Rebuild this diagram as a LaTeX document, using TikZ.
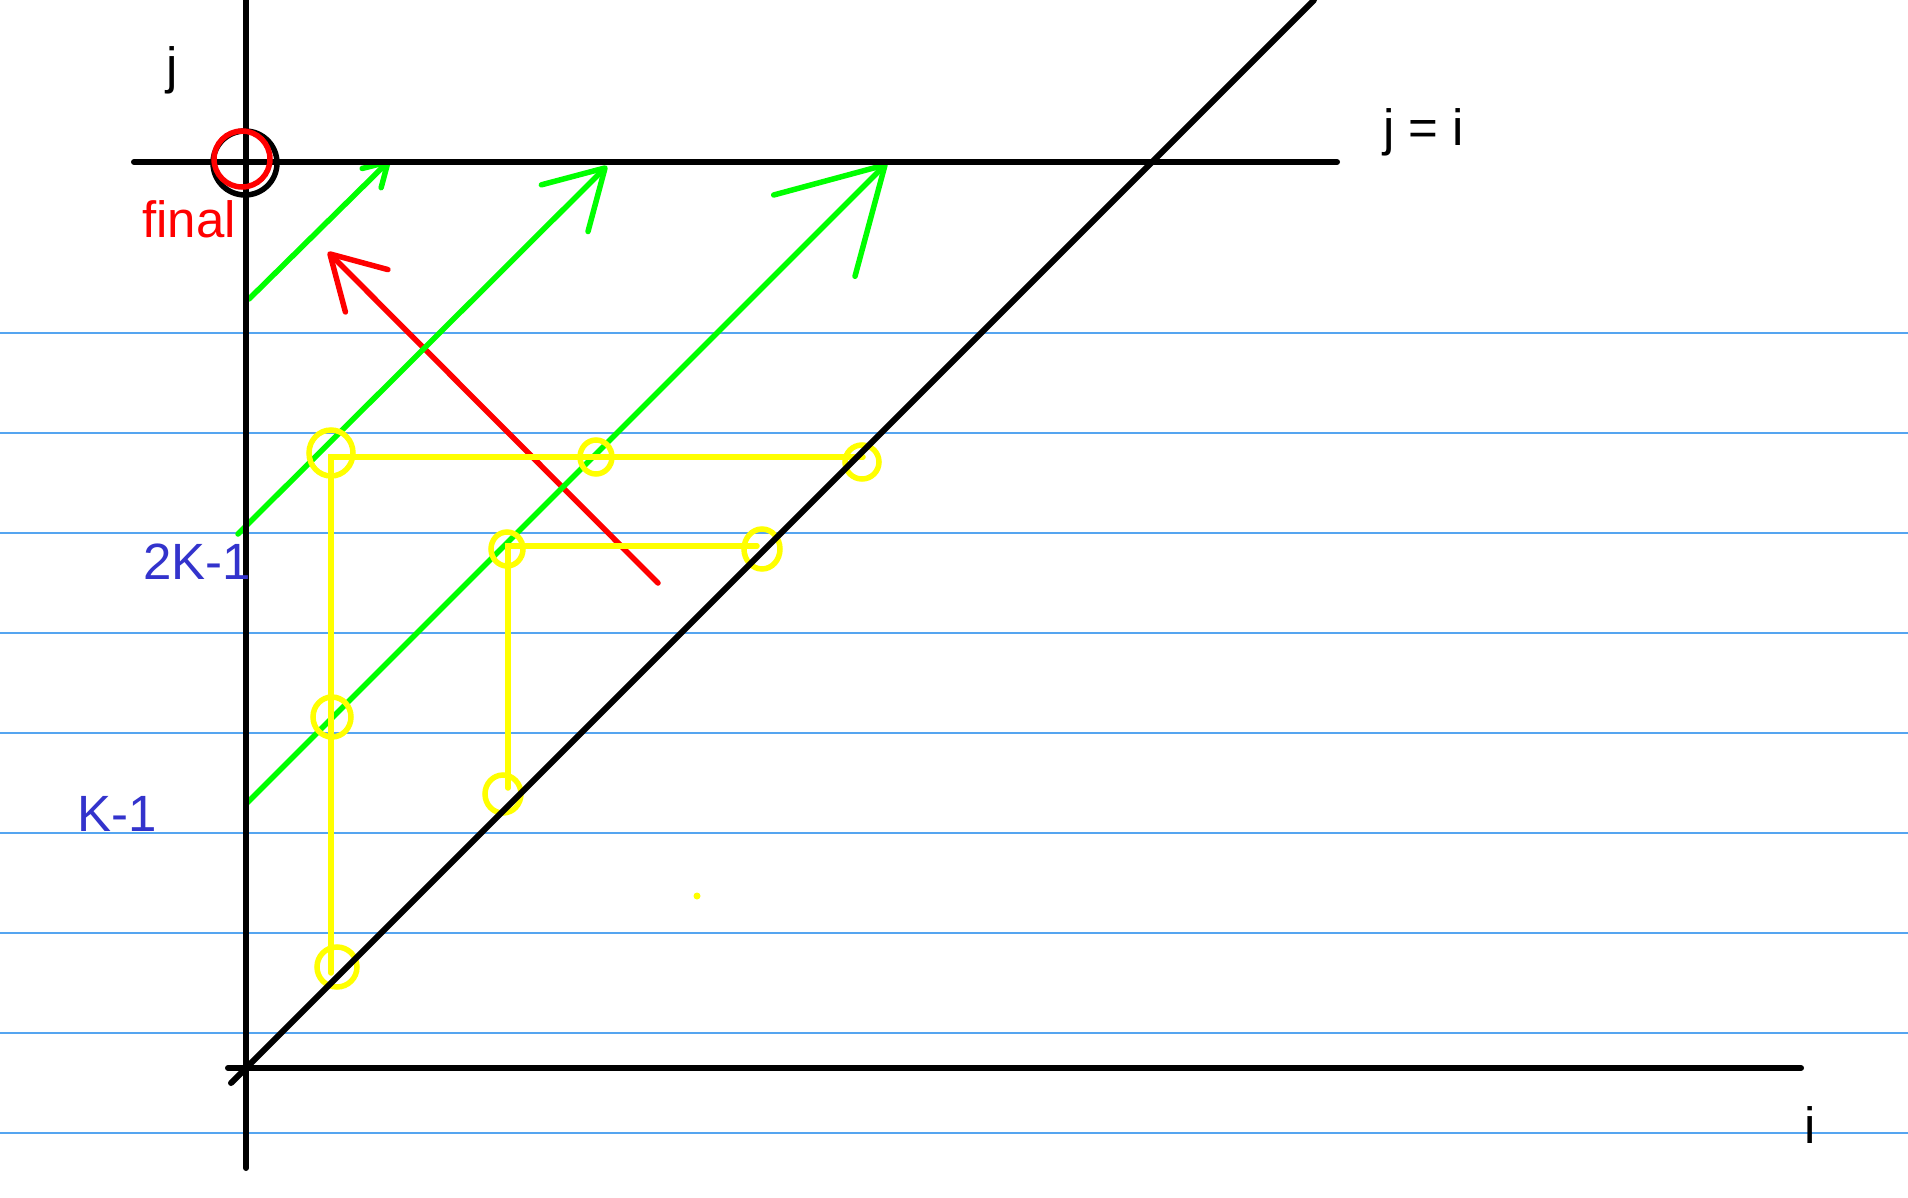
\documentclass[tikz,border=0pt]{standalone}
\usepackage{fontspec}
\setmainfont{Liberation Sans}
\usetikzlibrary{arrows.meta,shapes.geometric}
\definecolor{rule}{HTML}{55A5F0}
\definecolor{walk}{HTML}{00FF00}
\definecolor{back}{HTML}{FF0000}
\definecolor{cell}{HTML}{FFFF00}
\definecolor{mark}{HTML}{3333CC}
\tikzset{
  ruled/.style={rule, line width=2.2pt},
  axis/.style={black, line width=6pt, line cap=round},
  walkline/.style={walk, line width=5.5pt, line cap=round},
  backline/.style={back, line width=5.5pt, line cap=round},
  barb/.style 2 args={-{Straight Barb[length=#1, width=#2, round]}},
  cellmark/.style={ellipse, draw=cell, line width=5.5pt, inner sep=0pt},
  cellline/.style={cell, line width=5.5pt, line cap=round},
  lbl/.style={font=\fontsize{51}{51}\selectfont},
}

\begin{document}
\begin{tikzpicture}[x=1pt, y=-1pt, every node/.style={inner sep=0pt}]

\fill[white] (0,0) rectangle (1908,1198);
\useasboundingbox (0,0) rectangle (1908,1198);

% ruled paper
\foreach \yy in {333,433,...,1133}
  \draw[ruled] (0,\yy) -- (1908,\yy);

% backward pass
\coordinate (rs) at (658,583);
\coordinate (rt) at (328,252);
\draw[backline, barb={52pt}{60pt}] (rs) -- (rt);

% forward passes, one per diagonal
\coordinate (g1s) at (249,299);
\coordinate (g1t) at (390,160);
\coordinate (g2s) at (238,534);
\coordinate (g2t) at (607,166);
\coordinate (g3s) at (247,803);
\coordinate (g3t) at (887,163);
\draw[walkline, barb={23pt}{27pt}] (g1s) -- (g1t);
\draw[walkline, barb={57pt}{66pt}] (g2s) -- (g2t);
\draw[walkline, barb={100pt}{115pt}] (g3s) -- (g3t);

% cells that feed a cell
\node[cellmark, minimum width=44pt, minimum height=46pt] (ca) at (331,453) {};
\node[cellmark, minimum width=38pt, minimum height=40pt] (cb) at (332,717) {};
\node[cellmark, minimum width=32pt, minimum height=34pt] (cc) at (596,457) {};
\node[cellmark, minimum width=34pt, minimum height=34pt] (cd) at (862,462) {};
\node[cellmark, minimum width=32pt, minimum height=34pt] (ce) at (507,549) {};
\node[cellmark, minimum width=36pt, minimum height=40pt] (cf) at (762,549) {};
\node[cellmark, minimum width=36pt, minimum height=38pt] (cg) at (503,794) {};
\node[cellmark, minimum width=40pt, minimum height=40pt] (ch) at (337,967) {};

\coordinate (l1b) at (331,973);
\coordinate (l1c) at (331,457);
\coordinate (l1e) at (863,457);
\coordinate (l2b) at (508,788);
\coordinate (l2c) at (508,546);
\coordinate (l2e) at (757,546);
\draw[cellline] (l1b) -- (l1c) -- (l1e);
\draw[cellline] (l2b) -- (l2c) -- (l2e);
\fill[cell] (697,896) circle (3.5);

% axes and the diagonal
\coordinate (o) at (246,1068);
\draw[axis] (246,0) -- (246,1168);
\draw[axis] (228,1068) -- (1801,1068);
\draw[axis] (134,162) -- (1337,162);
\draw[axis] (231,1083) -- (1314,0);

% final cell
\node[circle, draw=black, line width=5.5pt, minimum size=64pt] (goalback) at (245,163) {};
\node[circle, draw=back, line width=5.5pt, minimum size=56pt] (goal) at (242,159) {};

% labels
\node[lbl, anchor=base] (jl) at (172,84) {j};
\node[lbl, anchor=base west] (eql) at (1383,146) {j = i};
\node[lbl, anchor=base] (il) at (1810,1143) {i};
\node[lbl, anchor=base west, text=back] (finl) at (142,238) {final};
\node[lbl, anchor=base east, text=mark] (k2l) at (251,579) {2K-1};
\node[lbl, anchor=base west, text=mark] (k1l) at (77,831) {K-1};

\end{tikzpicture}
\end{document}
